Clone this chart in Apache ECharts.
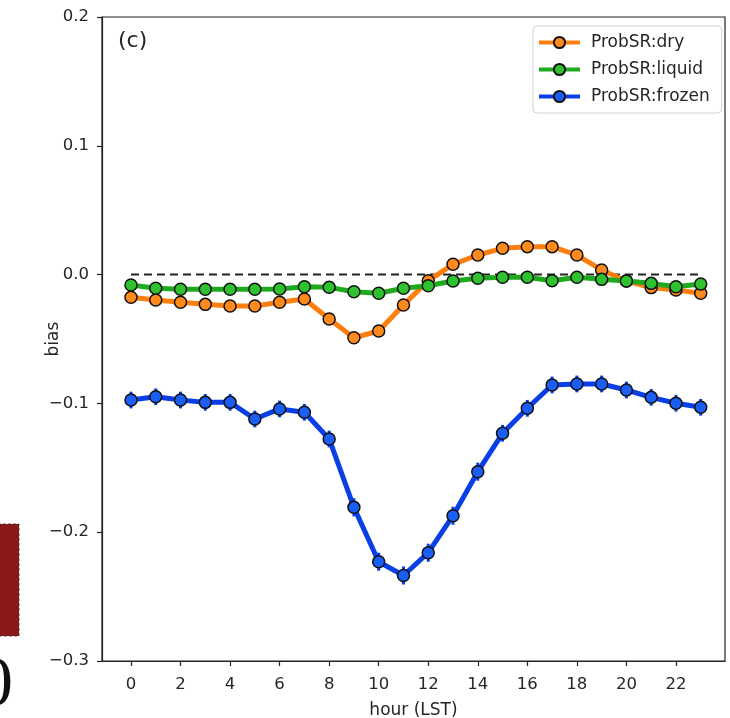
<!DOCTYPE html>
<html>
<head>
<meta charset="utf-8">
<script src="https://cdn.jsdelivr.net/npm/echarts@6/dist/echarts.min.js"></script>
<style>
  html, body { margin: 0; padding: 0; background: #fff; }
  #chart { width: 730px; height: 718px; }
</style>
</head>
<body>
<div id="chart"></div>
<script>
// Hour of day (local solar time)
const hours = [0,1,2,3,4,5,6,7,8,9,10,11,12,13,14,15,16,17,18,19,20,21,22,23];
const xTicks = [0,2,4,6,8,10,12,14,16,18,20,22];
const yTicks = [-0.3,-0.2,-0.1,0.0,0.1,0.2];

// Mean bias per hour for each precipitation class
const dryBias = [-0.0176,-0.0197,-0.0215,-0.0231,-0.0244,-0.0244,-0.0215,-0.0189,-0.0345,-0.0490,-0.0438,-0.0236,
                 -0.0047,0.0080,0.0152,0.0204,0.0217,0.0217,0.0152,0.0036,-0.0050,-0.0101,-0.0120,-0.0145];
const liquidBias = [-0.0081,-0.0106,-0.0114,-0.0114,-0.0114,-0.0114,-0.0112,-0.0094,-0.0099,-0.0133,-0.0145,-0.0106,
                    -0.0086,-0.0050,-0.0029,-0.0021,-0.0021,-0.0047,-0.0021,-0.0037,-0.0050,-0.0068,-0.0094,-0.0073];
const frozenBias = [-0.0974,-0.0948,-0.0974,-0.0992,-0.0992,-0.1121,-0.1043,-0.1069,-0.1276,-0.1807,-0.2229,-0.2336,
                    -0.2159,-0.1872,-0.1530,-0.1232,-0.1038,-0.0857,-0.0849,-0.0849,-0.0896,-0.0953,-0.0999,-0.1030];

// Half-width of the uncertainty bars
const dryErr = [0.002,0.002,0.002,0.002,0.002,0.002,0.002,0.002,0.002,0.002,0.002,0.002,
                0.002,0.002,0.002,0.002,0.002,0.002,0.002,0.002,0.002,0.002,0.002,0.002];
const liquidErr = [0.0015,0.0015,0.0015,0.0015,0.0015,0.0015,0.0015,0.0015,0.0015,0.0015,0.0015,0.0015,
                   0.0015,0.0015,0.0015,0.0015,0.0015,0.0015,0.0015,0.0015,0.0015,0.0015,0.0015,0.0015];
const frozenErr = [0.0065,0.0065,0.0065,0.0065,0.0065,0.0065,0.0065,0.0065,0.0065,0.007,0.007,0.007,
                   0.007,0.007,0.007,0.0065,0.0065,0.0065,0.0065,0.0065,0.0065,0.0065,0.0065,0.0065];

const seriesNames = ['ProbSR:dry', 'ProbSR:liquid', 'ProbSR:frozen'];
const lineColors = ['#ff7f0e', '#1daa1d', '#0b3fe6'];
const markerColors = ['#ff8a1c', '#2fc22f', '#1a5ef5'];

const FONT = 'DejaVu Sans';
const TXT = '#262626';

function pairs(vals) { return hours.map((h, i) => [h, vals[i]]); }
function errRanges(vals, errs) { return hours.map((h, i) => [h, vals[i] - errs[i], vals[i] + errs[i]]); }

function errorSeries(vals, errs, color, z) {
  return {
    type: 'custom',
    z: z,
    silent: true,
    data: errRanges(vals, errs),
    encode: { x: 0, y: [1, 2] },
    renderItem: function (params, api) {
      const a = api.coord([api.value(0), api.value(1)]);
      const b = api.coord([api.value(0), api.value(2)]);
      return {
        type: 'line',
        shape: { x1: a[0], y1: a[1], x2: b[0], y2: b[1] },
        style: { stroke: color, lineWidth: 3 }
      };
    }
  };
}

function lineSeries(idx, vals, z) {
  return {
    name: seriesNames[idx],
    type: 'line',
    z: z,
    data: pairs(vals),
    symbol: 'circle',
    symbolSize: 12,
    showAllSymbol: true,
    lineStyle: { color: lineColors[idx], width: 5 },
    itemStyle: { color: markerColors[idx], borderColor: '#111', borderWidth: 1.5 },
    emphasis: { disabled: true },
    animation: false
  };
}

function fmtTick(v) {
  const s = Math.abs(v) < 1e-9 ? '0.0' : v.toFixed(1);
  return s.replace('-', '\u2212');
}

const chart = echarts.init(document.getElementById('chart'), null, { renderer: 'canvas' });

chart.setOption({
  animation: false,
  backgroundColor: '#ffffff',
  grid: {
    left: 102, top: 17, right: 5, bottom: 57,
    containLabel: false,
    outerBoundsMode: 'none',
    show: true, borderColor: '#222', borderWidth: 1.2, backgroundColor: 'transparent'
  },
  xAxis: {
    type: 'value',
    min: -1.17,
    max: 23.98,
    name: 'hour (LST)',
    nameLocation: 'middle',
    nameGap: 41,
    nameMoveOverlap: false,
    nameTextStyle: { fontFamily: FONT, fontSize: 17, color: TXT },
    axisLine: { show: true, onZero: false, lineStyle: { color: '#222', width: 1.2 } },
    axisTick: { show: true, length: 5, customValues: xTicks, lineStyle: { color: '#222', width: 1.2 } },
    axisLabel: { customValues: xTicks, margin: 15, fontFamily: FONT, fontSize: 16.5, color: TXT },
    splitLine: { show: false }
  },
  yAxis: {
    type: 'value',
    min: -0.3,
    max: 0.2,
    name: 'bias',
    nameLocation: 'middle',
    nameGap: 40,
    nameMoveOverlap: false,
    nameTextStyle: { fontFamily: FONT, fontSize: 17, color: TXT },
    axisLine: { show: true, onZero: false, lineStyle: { color: '#222', width: 1.2 } },
    axisTick: { show: true, length: 5, customValues: yTicks, lineStyle: { color: '#222', width: 1.2 } },
    axisLabel: { customValues: yTicks, margin: 13, fontFamily: FONT, fontSize: 16.5, color: TXT, formatter: fmtTick },
    splitLine: { show: false }
  },
  legend: {
    data: seriesNames,
    orient: 'vertical',
    left: 533,
    top: 26,
    padding: [8, 12, 8, 4],
    itemGap: 10,
    itemWidth: 41,
    itemHeight: 14,
    backgroundColor: '#ffffff',
    borderColor: '#d0d0d0',
    borderWidth: 1,
    borderRadius: 4,
    selectedMode: false,
    lineStyle: { width: 4 },
    textStyle: { fontFamily: FONT, fontSize: 17, color: TXT, padding: [0, 0, 0, 6] }
  },
  graphic: [
    {
      type: 'text', left: 118, top: 30,
      style: { text: '(c)', fontFamily: FONT, fontSize: 22, fill: TXT }
    },
    {
      type: 'rect', shape: { x: -2, y: 524, width: 21, height: 112 },
      style: { fill: '#8a1818', stroke: '#333', lineWidth: 0.8, lineDash: [3, 2] }
    },
    {
      type: 'text', x: 13, y: 652,
      style: { text: '0', fontFamily: 'Liberation Serif', fontSize: 70, fill: '#111', align: 'right', verticalAlign: 'top' }
    }
  ],
  series: [
    {
      type: 'line',
      z: 1,
      silent: true,
      data: [[hours[0], 0], [hours[hours.length - 1], 0]],
      symbol: 'none',
      lineStyle: { color: '#222', width: 2, type: [8, 5] }
    },
    errorSeries(dryBias, dryErr, lineColors[0], 2),
    lineSeries(0, dryBias, 3),
    errorSeries(liquidBias, liquidErr, lineColors[1], 4),
    lineSeries(1, liquidBias, 5),
    errorSeries(frozenBias, frozenErr, lineColors[2], 6),
    lineSeries(2, frozenBias, 7)
  ]
});
</script>
</body>
</html>
